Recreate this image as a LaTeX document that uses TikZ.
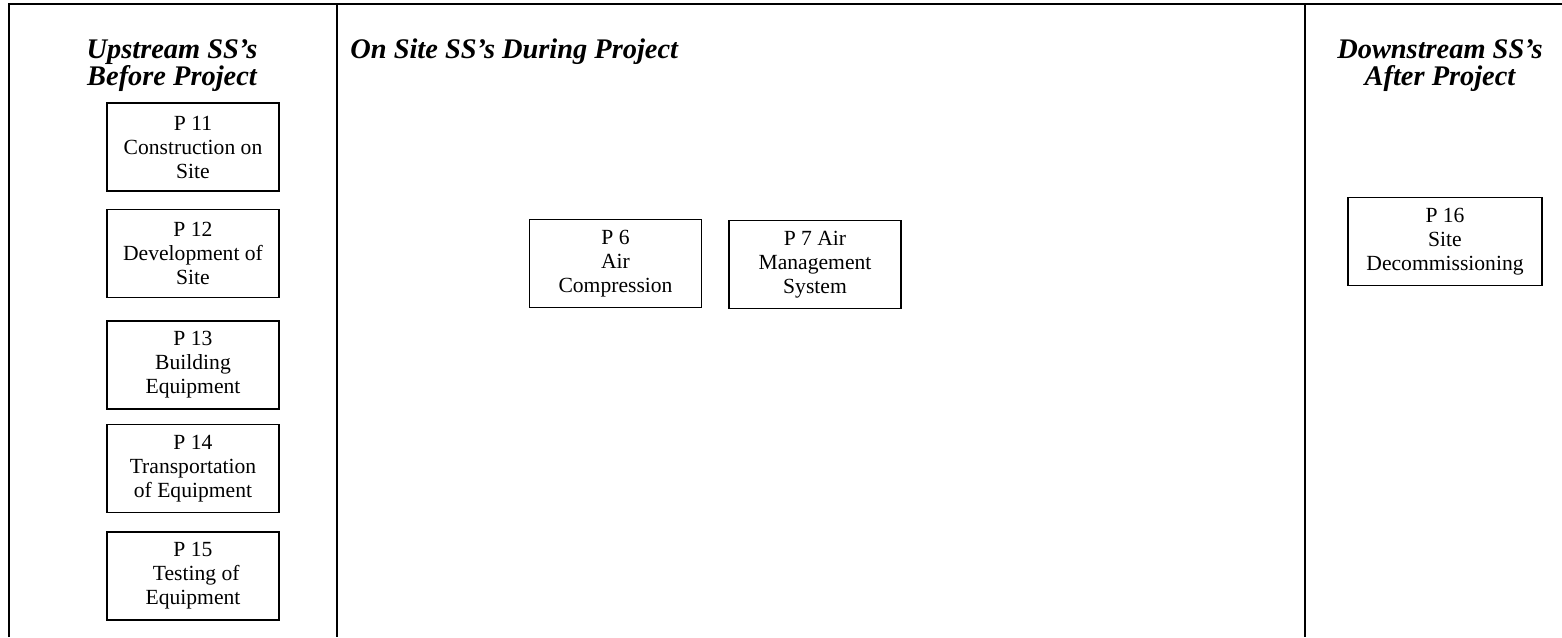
\documentclass[tikz,border=0pt]{standalone}
\usepackage{fontspec}
\setmainfont{Liberation Serif}
\begin{document}
\begin{tikzpicture}[x=0.5pt,y=-0.5pt,
  frame/.style={line width=0.8pt},
  pbox/.style={draw, line width=0.65pt, inner sep=0pt, align=center,
    minimum width=86pt, minimum height=44pt,
    font=\fontsize{10.8}{12}\selectfont},
  heading/.style={inner sep=0pt, align=center,
    font=\fontsize{14.2}{13.5}\selectfont\bfseries\itshape}]
\useasboundingbox (0,0) rectangle (1562,637);
% frame
\coordinate (tl) at (9,4);
\coordinate (tr) at (1562,4);
\coordinate (bl) at (9,637);
\coordinate (d1t) at (337,4);
\coordinate (d1b) at (337,637);
\coordinate (d2t) at (1305,4);
\coordinate (d2b) at (1305,637);
\draw[frame] (bl) -- (tl) -- (tr);
\draw[frame] (d1t) -- (d1b);
\draw[frame] (d2t) -- (d2b);
% headings
\node[heading, anchor=base] (hup) at (172,85) {Upstream SS’s\\Before Project};
\node[heading, anchor=base west] (hon) at (350,58) {On Site SS’s During Project};
\node[heading, anchor=base] (hdown) at (1440,85) {Downstream SS’s\\After Project};
% boxes
\node[pbox] (p11) at (193,147) {P 11\\Construction on\\Site};
\node[pbox] (p12) at (193,253.5) {P 12\\Development of\\Site};
\node[pbox] (p13) at (193,365) {P 13\\Building\\Equipment};
\node[pbox] (p14) at (193,468.5) {P 14\\Transportation\\of Equipment};
\node[pbox] (p15) at (193,576) {P 15\\\hspace{0.3em}Testing of\\Equipment};
\node[pbox] (p6) at (615.5,263.5) {P 6\\Air\\Compression};
\node[pbox] (p7) at (815,264.5) {P 7 Air\\Management\\System};
\node[pbox, minimum width=97pt] (p16) at (1445,241.5) {P 16\\Site\\Decommissioning};
\end{tikzpicture}
\end{document}
